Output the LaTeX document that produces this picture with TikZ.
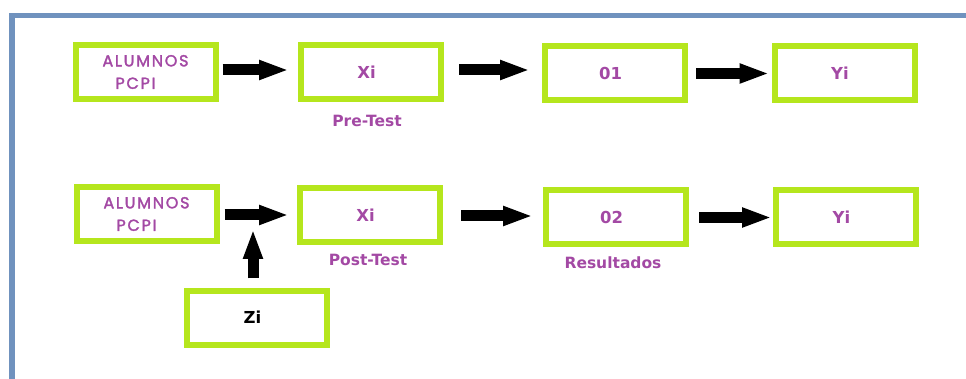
\documentclass[tikz,border=0pt]{standalone}
\usepackage{fontspec}
\setmainfont{DejaVu Sans}
\newfontfamily\gothic{Poppins}[LetterSpace=11,FakeBold=2]
\usetikzlibrary{arrows.meta}
\definecolor{lime}{HTML}{B5E61D}
\definecolor{plum}{HTML}{A349A4}
\definecolor{steel}{HTML}{7092BE}
\tikzset{
  box/.style={draw=lime, line width=6pt, minimum width=140pt, minimum height=54pt,
              inner sep=0pt, font=\bfseries\fontsize{16.5}{18}\selectfont, text=plum,
              execute at begin node={\hspace*{-9pt}}},
  grp/.style={draw=lime, line width=6pt, minimum width=140pt, minimum height=54pt,
              inner sep=0pt, text=plum, font=\gothic\fontsize{16}{22.5}\selectfont,
              align=left},
  lbl/.style={font=\bfseries\fontsize{15.5}{17}\selectfont, text=plum, inner sep=0pt},
  blk/.style={line width=11pt, -{Triangle[length=30pt,width=18pt]}, black}
}
\begin{document}
\begin{tikzpicture}[x=1pt,y=-1pt]
\useasboundingbox (0,0) rectangle (966,379);
% page frame
\draw[steel, line width=5.5pt] (966,15.5) -- (12,15.5) -- (12,379);

% first row
\node[grp] (a1) at (145.5,72) {ALUMNOS\\\hspace*{13pt}PCPI};
\node[box] (x1) at (371,72) {Xi};
\node[box] (o1) at (615,73.5) {01};
\node[box] (y1) at (844.5,73.5) {Yi};
\node[lbl] (pre) at (367,121) {Pre-Test};

% second row
\node[grp] (a2) at (146.5,214) {ALUMNOS\\\hspace*{13pt}PCPI};
\node[box] (x2) at (370,215) {Xi};
\node[box] (o2) at (616,217.5) {02};
\node[box] (y2) at (846,217.5) {Yi};
\node[lbl] (post) at (368,260) {Post-Test};
\node[lbl] (res) at (613,263) {Resultados};
\node[box, text=black] (zi) at (257,317.5) {Zi};

% connectors
\draw[blk] ([xshift=4pt,yshift=2pt]a1.east) -- ([xshift=-9pt,yshift=2pt]a1.east -| x1.west);
\draw[blk] ([xshift=15pt,yshift=2pt]x1.east) -- ([xshift=-12pt,yshift=2pt]x1.east -| o1.west);
\draw[blk] ([xshift=8pt]o1.east) -- ([xshift=-2pt]o1.east -| y1.west);

\draw[blk] ([xshift=5pt,yshift=-1pt]a2.east) -- ([xshift=-8pt,yshift=-1pt]a2.east -| x2.west);
\draw[blk] ([xshift=18pt,yshift=-1pt]x2.east) -- ([xshift=-10pt,yshift=-1pt]x2.east -| o2.west);
\draw[blk] ([xshift=10pt]o2.east) -- ([xshift=-1pt]o2.east -| y2.west);

\coordinate (join) at (253,229);
\draw[blk] ([yshift=9pt]zi.north -| join) -- (join);
\end{tikzpicture}
\end{document}
